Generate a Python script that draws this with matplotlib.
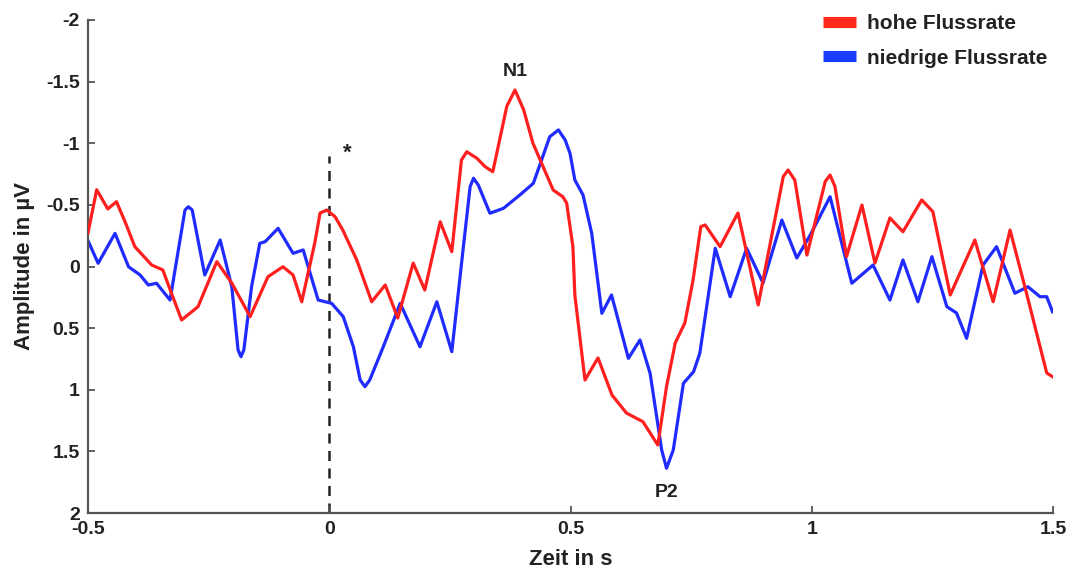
import numpy as np
import matplotlib
matplotlib.use('Agg')
import matplotlib.pyplot as plt
from matplotlib.lines import Line2D

plt.rcParams['font.family'] = ['Liberation Sans', 'DejaVu Sans']
plt.rcParams['axes.unicode_minus'] = False

# ERP traces (time in s, amplitude in uV, negative up)
t_high = [-0.500, -0.482, -0.459, -0.441, -0.423, -0.403, -0.368, -0.345, -0.327, -0.306,
          -0.272, -0.233, -0.202, -0.164, -0.127, -0.096, -0.075, -0.057, -0.030, -0.019,
          -0.005, 0.012, 0.028, 0.057, 0.088, 0.116, 0.142, 0.174, 0.198, 0.230,
          0.254, 0.274, 0.285, 0.306, 0.323, 0.339, 0.368, 0.385, 0.403, 0.422,
          0.464, 0.484, 0.492, 0.505, 0.509, 0.530, 0.557, 0.586, 0.616, 0.650,
          0.681, 0.699, 0.717, 0.737, 0.754, 0.770, 0.779, 0.810, 0.847, 0.889,
          0.941, 0.951, 0.965, 0.990, 1.028, 1.038, 1.048, 1.072, 1.104, 1.131,
          1.162, 1.189, 1.228, 1.251, 1.287, 1.338, 1.376, 1.411, 1.445, 1.487,
          1.499]
amp_high = [-0.272, -0.623, -0.467, -0.526, -0.361, -0.161, -0.012, 0.028, 0.217, 0.434,
            0.326, -0.039, 0.134, 0.407, 0.083, 0.002, 0.069, 0.286, -0.191, -0.434,
            -0.458, -0.404, -0.296, -0.053, 0.286, 0.150, 0.418, -0.028, 0.191, -0.363,
            -0.120, -0.864, -0.931, -0.878, -0.810, -0.769, -1.300, -1.432, -1.270, -1.002,
            -0.621, -0.566, -0.515, -0.161, 0.231, 0.921, 0.742, 1.043, 1.189, 1.259,
            1.448, 0.975, 0.621, 0.458, 0.110, -0.323, -0.337, -0.161, -0.434, 0.312,
            -0.730, -0.783, -0.700, -0.093, -0.690, -0.742, -0.650, -0.080, -0.499, -0.028,
            -0.394, -0.282, -0.540, -0.445, 0.231, -0.215, 0.286, -0.296, 0.215, 0.864,
            0.894]

t_low = [-0.499, -0.479, -0.444, -0.416, -0.392, -0.375, -0.358, -0.330, -0.299, -0.292,
         -0.284, -0.258, -0.226, -0.202, -0.189, -0.183, -0.177, -0.161, -0.144, -0.133,
         -0.106, -0.075, -0.054, -0.023, 0.005, 0.029, 0.050, 0.064, 0.074, 0.084,
         0.112, 0.147, 0.188, 0.223, 0.254, 0.278, 0.292, 0.299, 0.309, 0.333,
         0.361, 0.395, 0.423, 0.457, 0.475, 0.489, 0.499, 0.509, 0.526, 0.544,
         0.565, 0.585, 0.620, 0.644, 0.665, 0.689, 0.699, 0.713, 0.734, 0.755,
         0.768, 0.800, 0.831, 0.865, 0.899, 0.938, 0.969, 0.997, 1.038, 1.083,
         1.127, 1.162, 1.189, 1.220, 1.249, 1.280, 1.300, 1.321, 1.355, 1.383,
         1.421, 1.448, 1.473, 1.487, 1.499]
amp_low = [-0.201, -0.026, -0.269, 0.002, 0.069, 0.150, 0.136, 0.272, -0.458, -0.485,
           -0.458, 0.069, -0.215, 0.164, 0.677, 0.732, 0.677, 0.164, -0.188, -0.201,
           -0.310, -0.107, -0.134, 0.272, 0.299, 0.407, 0.651, 0.920, 0.975, 0.920,
           0.651, 0.299, 0.651, 0.286, 0.691, -0.161, -0.648, -0.716, -0.660, -0.432,
           -0.472, -0.580, -0.675, -1.053, -1.108, -1.026, -0.918, -0.702, -0.580, -0.269,
           0.380, 0.231, 0.745, 0.596, 0.867, 1.489, 1.637, 1.489, 0.948, 0.854,
           0.704, -0.148, 0.245, -0.148, 0.134, -0.377, -0.069, -0.256, -0.566, 0.136,
           -0.012, 0.272, -0.053, 0.286, -0.080, 0.326, 0.377, 0.583, -0.012, -0.161,
           0.217, 0.164, 0.245, 0.245, 0.367]

labels = ['hohe Flussrate', 'niedrige Flussrate']
x_ticks = [-0.5, 0, 0.5, 1, 1.5]
x_ticklabels = ['-0.5', '0', '0.5', '1', '1.5']
y_ticks = [-2, -1.5, -1, -0.5, 0, 0.5, 1, 1.5, 2]
y_ticklabels = ['-2', '-1.5', '-1', '-0.5', '0', '0.5', '1', '1.5', '2']

red = '#ff1f1f'
blue = '#1f2bff'

fig = plt.figure(figsize=(10.72, 5.79), dpi=100)
ax = fig.add_axes([88 / 1072, 1 - 513 / 579, 965 / 1072, 493 / 579])

ax.plot(t_high, amp_high, color=red, lw=2.3, solid_joinstyle='round', zorder=3)
ax.plot(t_low, amp_low, color=blue, lw=2.3, solid_joinstyle='round', zorder=2)

# stimulus onset
ax.plot([0, 0], [2, -0.9], color='#222222', lw=1.8, ls=(0, (4, 3)), zorder=1)

ax.set_xlim(-0.5, 1.5)
ax.set_ylim(2, -2)
ax.set_xticks(x_ticks)
ax.set_xticklabels(x_ticklabels)
ax.set_yticks(y_ticks)
ax.set_yticklabels(y_ticklabels)

for side in ['top', 'right']:
    ax.spines[side].set_visible(False)
for side in ['left', 'bottom']:
    ax.spines[side].set_color('#555555')
    ax.spines[side].set_linewidth(1.6)
ax.tick_params(direction='in', length=5, width=1.3, color='#555555',
               labelsize=14, pad=6, labelcolor='#222222')
for lab in ax.get_xticklabels() + ax.get_yticklabels():
    lab.set_fontweight('bold')

ax.set_xlabel('Zeit in s', fontsize=16, fontweight='bold', color='#222222', labelpad=8)
ax.set_ylabel('Amplitude in µV', fontsize=16, fontweight='bold', color='#222222', labelpad=8)

ax.text(0.037, -0.92, '*', fontsize=16, fontweight='bold', ha='center', va='center', color='#222222')
ax.text(0.385, -1.58, 'N1', fontsize=14, fontweight='bold', ha='center', va='center', color='#222222')
ax.text(0.699, 1.83, 'P2', fontsize=14, fontweight='bold', ha='center', va='center', color='#222222')

handles = [Line2D([], [], color='#ff2a1a', lw=8, solid_capstyle='butt'),
           Line2D([], [], color='#1a3cff', lw=8, solid_capstyle='butt')]
leg = fig.legend(handles, labels, loc='upper right', bbox_to_anchor=(1047 / 1072, 1 - 14 / 579),
                 frameon=False, fontsize=15, handlelength=1.6, handletextpad=0.5,
                 labelspacing=0.75, borderpad=0, borderaxespad=0)
for txt in leg.get_texts():
    txt.set_fontweight('bold')
    txt.set_color('#222222')

fig.savefig('out.png', dpi=100)
